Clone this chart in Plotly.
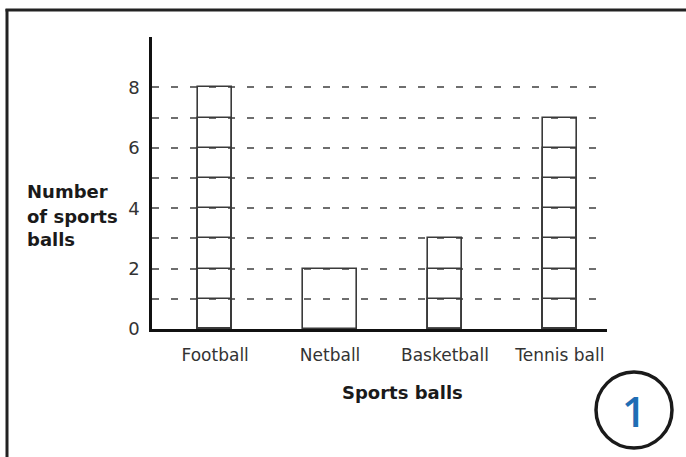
import plotly.graph_objects as go

# ---- data ----
categories = ["Football", "Netball", "Basketball", "Tennis ball"]
counts = [8, 2, 3, 7]
divided = [True, False, True, True]  # whether the bar is drawn as unit blocks
y_tick_values = [0, 1, 2, 3, 4, 5, 6, 7, 8]
y_tick_labels = ["0", "", "2", "", "4", "", "6", "", "8"]
x_title = "Sports balls"
y_title_lines = ["Number", "of sports", "balls"]
badge = "1"

# ---- layout geometry ----
W, H = 686, 457
L, R, T, B = 152, 79, 37, 128
PW, PH = W - L - R, H - T - B


def px(x):
    return (x - L) / PW


def py(y):
    return (H - B - y) / PH


bar_widths = [0.30, 0.47, 0.30, 0.30]
bar_line = dict(color="#3a3a3a", width=1.6)
clear = "rgba(0,0,0,0)"

fig = go.Figure()
# full bars
fig.add_trace(go.Bar(
    x=categories, y=counts, width=bar_widths,
    marker=dict(color=clear, line=bar_line),
    hoverinfo="x+y", showlegend=False,
))
# unit block divisions
for k in range(1, max(counts)):
    ys = [k if (d and v > k) else None for v, d in zip(counts, divided)]
    fig.add_trace(go.Bar(
        x=categories, y=ys, width=bar_widths,
        marker=dict(color=clear, line=bar_line),
        hoverinfo="skip", showlegend=False,
    ))

font_main = "DejaVu Sans"

fig.update_layout(
    width=W, height=H,
    margin=dict(l=L, r=R, t=T, b=B, pad=0),
    paper_bgcolor="white", plot_bgcolor="white",
    barmode="overlay",
    bargap=0,
    showlegend=False,
    font=dict(family=font_main, color="#222"),
    xaxis=dict(
        type="category",
        range=[-0.55, 3.41],
        showgrid=False,
        showline=True, linecolor="#111", linewidth=3,
        ticks="", ticklabelstandoff=9,
        tickfont=dict(family=font_main, size=17, color="#333"),
        zeroline=False, fixedrange=True,
    ),
    yaxis=dict(
        range=[0, 9.67],
        tickmode="array", tickvals=y_tick_values, ticktext=y_tick_labels,
        showgrid=True, gridcolor="#6e6e6e", gridwidth=1.6, griddash="7px,12px",
        showline=True, linecolor="#111", linewidth=2.5,
        ticks="", ticklabelstandoff=6,
        tickfont=dict(family=font_main, size=18, color="#333"),
        zeroline=False, fixedrange=True,
    ),
)

annotations = []
for text, yc in zip(y_title_lines, [191, 216, 239]):
    annotations.append(dict(
        text=text, xref="paper", yref="paper", x=px(25), y=py(yc),
        xanchor="left", yanchor="middle", showarrow=False,
        font=dict(family=font_main, size=18, color="#1a1a1a", weight="bold"),
    ))
annotations.append(dict(
    text=x_title, xref="paper", yref="paper", x=px(402), y=py(392),
    xanchor="center", yanchor="middle", showarrow=False,
    font=dict(family=font_main, size=18, color="#1a1a1a", weight="bold"),
))
annotations.append(dict(
    text=badge, xref="paper", yref="paper", x=px(634), y=py(410),
    xanchor="center", yanchor="middle", showarrow=False,
    font=dict(family="Open Sans", size=42, color="#1f6db4", weight=600),
))
fig.update_layout(annotations=annotations)

shapes = [
    # frame: left and top edges
    dict(type="line", xref="paper", yref="paper", x0=px(7), x1=px(7), y0=py(9), y1=py(470),
         line=dict(color="#222", width=3)),
    dict(type="line", xref="paper", yref="paper", x0=px(5.5), x1=px(700), y0=py(10), y1=py(10),
         line=dict(color="#222", width=3)),
    # badge circle
    dict(type="circle", xref="paper", yref="paper",
         x0=px(596), x1=px(672), y0=py(372), y1=py(448),
         line=dict(color="#1a1a1a", width=3.5)),
]
fig.update_layout(shapes=shapes)

fig.write_html(
    "out.html",
    config={"displayModeBar": False},
    post_script="document.body.style.margin='0';document.body.style.overflow='hidden';",
)
